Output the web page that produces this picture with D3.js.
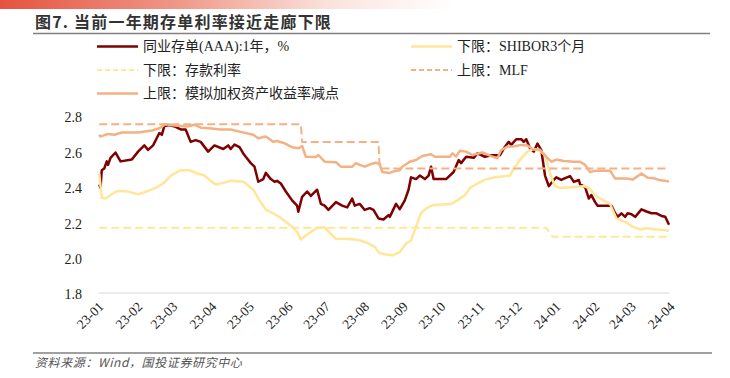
<!DOCTYPE html>
<html>
<head>
  <meta charset="UTF-8">
  <style>
    body {
      margin: 0;
      background-color: #ffffff;
    }
    svg {
      display: block;
    }
    .serif {
      font-family: "Liberation Serif", "Noto Sans CJK SC", serif;
    }
  </style>
</head>
<body>

<svg width="730" height="378"></svg>

<script src="https://d3js.org/d3.v7.min.js"></script>

<script>
// 同业存单(AAA):1年
let cdRate = [
  ["2023-01-02",2.41],["2023-01-03",2.39],["2023-01-04",2.49],["2023-01-06",2.50],["2023-01-08",2.54],["2023-01-09",2.52],
  ["2023-01-11",2.56],["2023-01-15",2.59],["2023-01-19",2.54],["2023-01-28",2.55],["2023-02-02",2.595],["2023-02-07",2.63],
  ["2023-02-10",2.605],["2023-02-14",2.63],["2023-02-19",2.70],["2023-02-21",2.69],["2023-02-23",2.74],["2023-02-27",2.745],
  ["2023-03-04",2.735],["2023-03-08",2.72],["2023-03-12",2.72],["2023-03-16",2.65],["2023-03-20",2.66],["2023-03-24",2.65],
  ["2023-03-30",2.595],["2023-04-04",2.63],["2023-04-11",2.61],["2023-04-15",2.63],["2023-04-17",2.61],["2023-04-20",2.635],
  ["2023-04-24",2.62],["2023-04-27",2.585],["2023-04-29",2.566],["2023-05-03",2.53],["2023-05-06",2.51],["2023-05-09",2.425],
  ["2023-05-13",2.44],["2023-05-15",2.475],["2023-05-19",2.44],["2023-05-22",2.425],["2023-05-24",2.43],["2023-05-27",2.415],
  ["2023-05-31",2.37],["2023-06-05",2.32],["2023-06-09",2.29],["2023-06-10",2.256],["2023-06-13",2.34],["2023-06-17",2.37],
  ["2023-06-20",2.345],["2023-06-25",2.38],["2023-06-28",2.30],["2023-07-01",2.29],["2023-07-04",2.266],["2023-07-10",2.31],
  ["2023-07-15",2.29],["2023-07-19",2.28],["2023-07-23",2.33],["2023-07-25",2.29],["2023-07-29",2.30],["2023-08-02",2.266],
  ["2023-08-06",2.276],["2023-08-09",2.266],["2023-08-13",2.218],["2023-08-17",2.212],["2023-08-21",2.237],["2023-08-22",2.227],
  ["2023-08-27",2.30],["2023-08-30",2.27],["2023-09-03",2.32],["2023-09-06",2.38],["2023-09-08",2.45],["2023-09-12",2.44],
  ["2023-09-15",2.46],["2023-09-19",2.44],["2023-09-22",2.46],["2023-09-24",2.51],["2023-09-26",2.44],["2023-10-06",2.44],
  ["2023-10-12",2.48],["2023-10-16",2.547],["2023-10-18",2.53],["2023-10-22",2.566],["2023-10-28",2.56],["2023-10-31",2.585],
  ["2023-11-06",2.566],["2023-11-11",2.575],["2023-11-18",2.575],["2023-11-22",2.623],["2023-11-25",2.65],["2023-11-27",2.633],
  ["2023-12-01",2.665],["2023-12-05",2.665],["2023-12-07",2.65],["2023-12-09",2.665],["2023-12-12",2.614],["2023-12-15",2.595],
  ["2023-12-18",2.64],["2023-12-21",2.604],["2023-12-24",2.46],["2023-12-27",2.40],["2023-12-31",2.435],["2024-01-02",2.45],
  ["2024-01-06",2.435],["2024-01-09",2.445],["2024-01-13",2.457],["2024-01-16",2.424],["2024-01-20",2.435],["2024-01-21",2.41],
  ["2024-01-25",2.395],["2024-01-28",2.33],["2024-01-30",2.35],["2024-02-02",2.31],["2024-02-04",2.29],["2024-02-15",2.29],
  ["2024-02-18",2.247],["2024-02-20",2.227],["2024-02-23",2.247],["2024-02-26",2.227],["2024-02-28",2.247],["2024-03-02",2.242],
  ["2024-03-05",2.227],["2024-03-10",2.269],["2024-03-14",2.257],["2024-03-18",2.247],["2024-03-22",2.247],["2024-03-26",2.232],
  ["2024-03-29",2.227],["2024-04-01",2.182]
];

// 下限：SHIBOR3个月
let shibor3m = [
  ["2023-01-02",2.47],["2023-01-04",2.335],["2023-01-07",2.33],["2023-01-11",2.35],["2023-01-16",2.373],["2023-01-25",2.37],
  ["2023-02-02",2.354],["2023-02-10",2.373],["2023-02-16",2.39],["2023-02-23",2.42],["2023-02-28",2.46],["2023-03-08",2.49],
  ["2023-03-15",2.49],["2023-03-22",2.47],["2023-03-27",2.46],["2023-04-01",2.43],["2023-04-05",2.41],["2023-04-12",2.42],
  ["2023-04-17",2.43],["2023-04-27",2.425],["2023-04-29",2.415],["2023-05-05",2.38],["2023-05-10",2.32],["2023-05-15",2.268],
  ["2023-05-21",2.246],["2023-05-26",2.226],["2023-05-31",2.198],["2023-06-05",2.172],["2023-06-09",2.142],["2023-06-12",2.099],
  ["2023-06-16",2.122],["2023-06-21",2.147],["2023-06-26",2.167],["2023-07-01",2.167],["2023-07-05",2.137],["2023-07-10",2.104],
  ["2023-07-21",2.102],["2023-07-29",2.095],["2023-08-04",2.08],["2023-08-10",2.057],["2023-08-14",2.022],["2023-08-19",2.015],
  ["2023-08-24",2.01],["2023-08-30",2.028],["2023-09-04",2.077],["2023-09-08",2.092],["2023-09-12",2.172],["2023-09-16",2.247],
  ["2023-09-20",2.275],["2023-09-25",2.292],["2023-10-10",2.30],["2023-10-15",2.32],["2023-10-21",2.35],["2023-10-25",2.39],
  ["2023-10-31",2.415],["2023-11-06",2.437],["2023-11-14",2.45],["2023-11-26",2.46],["2023-11-30",2.51],["2023-12-05",2.557],
  ["2023-12-10",2.595],["2023-12-15",2.61],["2023-12-20",2.60],["2023-12-24",2.576],["2023-12-28",2.47],["2024-01-01",2.40],
  ["2024-01-05",2.39],["2024-01-24",2.40],["2024-01-28",2.39],["2024-02-02",2.35],["2024-02-07",2.325],["2024-02-14",2.30],
  ["2024-02-16",2.265],["2024-02-19",2.218],["2024-02-26",2.199],["2024-03-03",2.172],["2024-03-09",2.156],["2024-03-14",2.162],
  ["2024-03-22",2.156],["2024-03-29",2.152],["2024-04-01",2.147]
];

// 下限：存款利率
let depositRate = [["2023-01-02",2.165],["2023-12-25",2.165],["2023-12-30",2.115],["2024-04-01",2.115]];

// 上限：MLF
let mlfRate = [["2023-01-02",2.75],["2023-06-12",2.75],["2023-06-13",2.65],["2023-08-13",2.65],["2023-08-14",2.50],["2024-04-01",2.50]];

// 上限：模拟加权资产收益率减点
let assetYield = [
  ["2023-01-02",2.69],["2023-01-03",2.68],["2023-01-09",2.695],["2023-01-14",2.69],["2023-01-20",2.703],["2023-02-02",2.703],
  ["2023-02-13",2.714],["2023-02-19",2.727],["2023-02-24",2.75],["2023-03-03",2.742],["2023-03-14",2.737],["2023-03-19",2.747],
  ["2023-03-24",2.73],["2023-03-31",2.727],["2023-04-09",2.72],["2023-04-17",2.72],["2023-04-24",2.708],["2023-05-05",2.69],
  ["2023-05-09",2.67],["2023-05-15",2.68],["2023-05-21",2.65],["2023-05-24",2.655],["2023-05-30",2.642],["2023-06-05",2.62],
  ["2023-06-10",2.614],["2023-06-13",2.627],["2023-06-16",2.566],["2023-06-24",2.565],["2023-06-26",2.576],["2023-07-01",2.538],
  ["2023-07-10",2.535],["2023-07-14",2.51],["2023-07-23",2.51],["2023-07-26",2.53],["2023-07-29",2.52],["2023-08-02",2.51],
  ["2023-08-07",2.525],["2023-08-11",2.532],["2023-08-14",2.525],["2023-08-16",2.48],["2023-08-22",2.475],["2023-08-26",2.485],
  ["2023-08-30",2.49],["2023-09-01",2.51],["2023-09-07",2.538],["2023-09-12",2.548],["2023-09-17",2.57],["2023-09-24",2.58],
  ["2023-09-27",2.566],["2023-10-09",2.566],["2023-10-11",2.585],["2023-10-14",2.568],["2023-10-17",2.60],["2023-10-22",2.595],
  ["2023-10-27",2.576],["2023-11-04",2.59],["2023-11-11",2.57],["2023-11-16",2.557],["2023-11-19",2.604],["2023-11-24",2.623],
  ["2023-11-30",2.625],["2023-12-05",2.633],["2023-12-10",2.63],["2023-12-14",2.61],["2023-12-20",2.605],["2023-12-25",2.566],
  ["2023-12-29",2.538],["2024-01-02",2.55],["2024-01-08",2.542],["2024-01-16",2.538],["2024-01-21",2.538],["2024-01-25",2.52],
  ["2024-01-29",2.48],["2024-02-01",2.485],["2024-02-04",2.487],["2024-02-14",2.487],["2024-02-18",2.443],["2024-02-27",2.443],
  ["2024-03-03",2.437],["2024-03-10",2.472],["2024-03-15",2.447],["2024-03-20",2.445],["2024-03-25",2.433],["2024-03-29",2.43],
  ["2024-04-01",2.426]
];

let yTicks = [1.8, 2.0, 2.2, 2.4, 2.6, 2.8];

let seriesNames = ["同业存单(AAA):1年，%", "下限：SHIBOR3个月", "下限：存款利率", "上限：MLF", "上限：模拟加权资产收益率减点"];

let width = 730, height = 378;
let svg = d3.select("svg");
let parse = d3.timeParse("%Y-%m-%d");

// top banner
let defs = svg.append("defs");
let grad = defs.append("linearGradient").attr("id", "banner");
grad.append("stop").attr("offset", "0%").attr("stop-color", "#e5533f");
grad.append("stop").attr("offset", "25%").attr("stop-color", "#f0998a");
grad.append("stop").attr("offset", "45%").attr("stop-color", "#fbe2dc");
grad.append("stop").attr("offset", "62%").attr("stop-color", "#ffffff");
svg.append("rect").attr("x", 0).attr("y", 0).attr("width", width).attr("height", 9).attr("fill", "url(#banner)");

svg.append("text")
    .attr("x", 35).attr("y", 28)
    .attr("font-family", "'Noto Sans CJK SC', sans-serif")
    .attr("font-weight", "bold")
    .attr("font-size", 16)
    .attr("letter-spacing", 1.2)
    .attr("fill", "#333333")
    .text("图7. 当前一年期存单利率接近走廊下限");

svg.append("line").attr("x1", 33).attr("x2", 710).attr("y1", 33.5).attr("y2", 33.5)
    .attr("stroke", "#808080").attr("stroke-width", 1.5);

svg.append("line").attr("x1", 33).attr("x2", 712).attr("y1", 353).attr("y2", 353)
    .attr("stroke", "#808080").attr("stroke-width", 1.5);

svg.append("text")
    .attr("x", 35).attr("y", 367)
    .attr("font-family", "'Noto Sans CJK SC', sans-serif")
    .attr("font-style", "italic")
    .attr("font-size", 12)
    .attr("letter-spacing", 0.6)
    .attr("fill", "#555555")
    .text("资料来源：Wind，国投证券研究中心");

// scales
let x = d3.scaleTime()
    .domain([parse("2023-01-01"), parse("2024-04-01")])
    .range([98, 669]);

let y = d3.scaleLinear()
    .domain([1.8, 2.8])
    .range([292.5, 115.3]);

// y axis labels
let yAxis = svg.append("g")
    .attr("transform", "translate(82,2)")
    .call(d3.axisLeft(y).tickValues(yTicks).tickFormat(d3.format(".1f")).tickSize(0).tickPadding(0));
yAxis.select(".domain").remove();
yAxis.selectAll("text")
    .attr("class", "serif")
    .attr("font-size", 14)
    .attr("fill", "#222222");

// x axis
let xAxis = svg.append("g")
    .attr("transform", "translate(0," + y(1.8) + ")")
    .call(d3.axisBottom(x).ticks(d3.timeMonth.every(1)).tickFormat(d3.timeFormat("%y-%m")).tickSize(0));
xAxis.select(".domain").attr("stroke", "#d9d9d9").attr("stroke-width", 1);
xAxis.selectAll("text")
    .attr("class", "serif")
    .attr("font-size", 13.5)
    .attr("fill", "#222222")
    .attr("text-anchor", "end")
    .attr("y", 0).attr("dy", 0)
    .attr("transform", "translate(6,15) rotate(-45)");

let line = d3.line()
    .x(d => x(parse(d[0])))
    .y(d => y(d[1]));

let series = [
  {data: cdRate, color: "#7f0000", width: 2.5, dash: null},
  {data: shibor3m, color: "#ffe699", width: 2.5, dash: null},
  {data: depositRate, color: "#ffe699", width: 2, dash: "8,4"},
  {data: mlfRate, color: "#f4b183", width: 2, dash: "8,4"},
  {data: assetYield, color: "#f4b183", width: 2.5, dash: null}
];

svg.append("g")
    .selectAll("path")
    .data(series)
    .enter()
    .append("path")
    .attr("d", d => line(d.data))
    .attr("fill", "none")
    .attr("stroke", d => d.color)
    .attr("stroke-width", d => d.width)
    .attr("stroke-dasharray", d => d.dash)
    .attr("stroke-linejoin", "round");

// legend: two columns, filled row by row
let legendPos = [[97, 46.5], [411, 46.5], [97, 70], [411, 70], [97, 93.5]];

let legend = svg.append("g")
    .selectAll("g")
    .data(series)
    .enter()
    .append("g")
    .attr("transform", (d, i) => "translate(" + legendPos[i][0] + "," + legendPos[i][1] + ")");

legend.append("line")
    .attr("x1", 0).attr("x2", 41)
    .attr("stroke", d => d.color)
    .attr("stroke-width", d => d.dash ? 2 : 2.5)
    .attr("stroke-dasharray", d => d.dash ? "5,3" : null);

legend.append("text")
    .attr("class", "serif")
    .attr("x", 46).attr("dy", "0.35em")
    .attr("font-size", 14)
    .attr("fill", "#222222")
    .text((d, i) => seriesNames[i]);
</script>

</body>
</html>
